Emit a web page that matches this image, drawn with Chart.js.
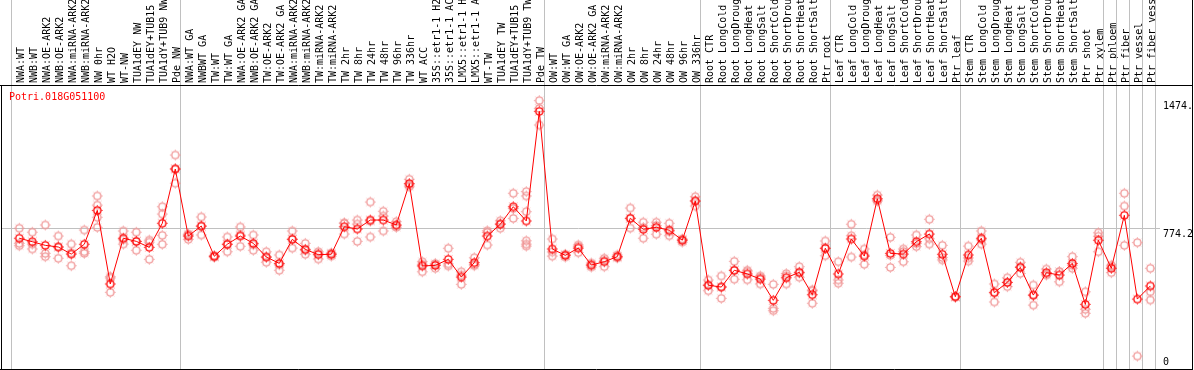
<!DOCTYPE html>
<html lang="en">
<head>
    <meta charset="UTF-8">
    <title>Potri.018G051100 expression</title>
    <script src="https://cdn.jsdelivr.net/npm/chart.js"></script>
    <style>
body {
  margin: 0;
  padding: 0;
  background-color: #fff;
}

#chartContainer {
  width: 1194px;
  height: 370px;
}
    </style>
</head>
<body>
    <div id="chartContainer">
        <canvas id="myChart" width="1194" height="370"></canvas>
    </div>

    <script>
        // sample names, in plot order
        const categories = [
            'NWA:WT', 'NWB:WT', 'NWA:OE-ARK2', 'NWB:OE-ARK2', 'NWA:miRNA-ARK2', 'NWB:miRNA-ARK2', 'NW 0hr', 'WT H2O', 'WT-NW',
            'TUA1dEY NW', 'TUA1dEY+TUB15 NW', 'TUA1dY+TUB9 NW', 'Pde NW',
            'NWA:WT GA', 'NWBWT GA', 'TW:WT', 'TW:WT GA', 'NWA:OE-ARK2 GA', 'NWB:OE-ARK2 GA', 'TW:OE-ARK2', 'TW:OE-ARK2 GA',
            'NWA:miRNA-ARK2 GA', 'NWB:miRNA-ARK2 GA', 'TW:miRNA-ARK2', 'TW:miRNA-ARK2 GA', 'TW 2hr', 'TW 8hr', 'TW 24hr', 'TW 48hr',
            'TW 96hr', 'TW 336hr', 'WT ACC', '35S::etr1-1 H2O', '35S::etr1-1 ACC', 'LMX5::etr1-1 H2O', 'LMX5::etr1-1 ACC', 'WT-TW',
            'TUA1dEY TW', 'TUA1dEY+TUB15 TW', 'TUA1dY+TUB9 TW', 'Pde TW',
            'OW:WT', 'OW:WT GA', 'OW:OE-ARK2', 'OW:OE-ARK2 GA', 'OW:miRNA-ARK2', 'OW:miRNA-ARK2 GA', 'OW 2hr', 'OW 8hr', 'OW 24hr',
            'OW 48hr', 'OW 96hr', 'OW 336hr',
            'Root CTR', 'Root LongCold', 'Root LongDrought', 'Root LongHeat', 'Root LongSalt', 'Root ShortCold', 'Root ShortDrought',
            'Root ShortHeat', 'Root ShortSalt', 'Ptr root',
            'Leaf CTR', 'Leaf LongCold', 'Leaf LongDrought', 'Leaf LongHeat', 'Leaf LongSalt', 'Leaf ShortCold', 'Leaf ShortDrought',
            'Leaf ShortHeat', 'Leaf ShortSalt', 'Ptr leaf',
            'Stem CTR', 'Stem LongCold', 'Stem LongDrought', 'Stem LongHeat', 'Stem LongSalt', 'Stem ShortCold', 'Stem ShortDrought',
            'Stem ShortHeat', 'Stem ShortSalt', 'Ptr shoot', 'Ptr xylem',
            'Ptr phloem', 'Ptr fiber', 'Ptr vessel', 'Ptr fiber vessel'
        ];

        // index where each experiment group starts (last one = end)
        const groupStarts = [0, 13, 41, 53, 63, 73, 84, 85, 86, 87, 88];

        // mean expression per sample
        const means = [
            718, 699, 679, 670, 631, 685, 871, 467, 718, 701, 668, 800, 1098,
            730, 785, 619, 685, 730, 690, 615, 580, 712, 657, 628, 630, 781, 769, 818, 818, 791, 1018, 566, 569, 602, 505, 584, 730, 795, 891, 813, 1415,
            659, 624, 664, 571, 589, 617, 828, 767, 778, 762, 707, 922,
            460, 450, 542, 522, 494, 377, 501, 531, 408, 663,
            522, 714, 620, 935, 635, 631, 699, 741, 630, 397,
            626, 718, 419, 476, 558, 406, 529, 516, 580, 355, 707,
            553, 844, 384, 456
        ];

        // individual replicates per sample
        const replicates = [
            [773, 690, 677], [751, 686, 659], [791, 635, 617], [730, 608, 670], [686, 567, 637], [763, 644, 635],
            [950, 900, 833, 778], [507, 421, 500], [758, 686, 710], [751, 652, 700], [708, 697, 602], [891, 851, 734, 685],
            [1175, 1020, 1100],
            [712, 741, 737], [835, 736, 784], [622, 613, 620], [725, 644, 686], [780, 674, 736], [736, 652, 682],
            [644, 586, 615], [626, 542, 572], [758, 664, 714], [690, 630, 651], [644, 604, 636], [637, 620, 633],
            [803, 741, 799], [818, 796, 701], [917, 725, 812], [866, 840, 758], [809, 778, 786], [1042, 1001, 1011],
            [589, 534, 575], [580, 553, 574], [663, 566, 577], [534, 465, 516], [611, 567, 574], [759, 681, 750],
            [814, 773, 798], [965, 827, 881], [974, 950, 864, 704, 686, 675], [1474, 1340, 1431],
            [714, 620, 643], [630, 615, 627], [681, 639, 672], [582, 560, 571], [608, 562, 597], [626, 610, 615],
            [884, 774, 826], [806, 718, 777], [806, 740, 788], [800, 732, 754], [714, 697, 710], [946, 895, 925],
            [489, 430, 461], [511, 388, 451], [591, 493, 542], [534, 490, 542], [511, 467, 504], [465, 333, 320],
            [512, 467, 524], [562, 504, 527], [434, 361, 429], [703, 622, 664],
            [589, 489, 471], [795, 732, 615], [659, 575, 626], [955, 928, 922], [723, 558, 624], [659, 589, 645],
            [736, 672, 689], [822, 686, 715], [679, 599, 612], [397, 395, 399],
            [675, 593, 610], [758, 686, 710], [467, 368, 422], [501, 452, 475], [586, 525, 563], [461, 351, 406],
            [549, 516, 522], [534, 479, 535], [617, 553, 570], [424, 328, 306], [748, 644, 729],
            [529, 560, 570], [965, 895, 679], [694, 71], [553, 424, 379]
        ];

        // y axis marks and their printed text
        const yTickValues = [0, 774.2, 1474];
        const yTickLabels = ['0', '774.2', '1474.'];
        const yMax = 1554;

        const geneName = 'Potri.018G051100';
        const monoFont = '10px "DejaVu Sans Mono", monospace';

        // circle marker with little spikes round it
        function makeMarker(color) {
            const c = document.createElement('canvas');
            c.width = 13;
            c.height = 13;
            const g = c.getContext('2d');
            g.strokeStyle = color;
            g.lineWidth = 1.4;
            g.beginPath();
            g.arc(6.5, 6.5, 3.6, 0, Math.PI * 2);
            g.stroke();
            g.lineWidth = 0.8;
            for (let k = 0; k < 8; k++) {
                const a = k * Math.PI / 4;
                g.beginPath();
                g.moveTo(6.5 + Math.cos(a) * 4.3, 6.5 + Math.sin(a) * 4.3);
                g.lineTo(6.5 + Math.cos(a) * 5.4, 6.5 + Math.sin(a) * 5.4);
                g.stroke();
            }
            return c;
        }

        const meanPoints = means.map((v, i) => ({ x: i, y: v }));
        const repPoints = [];
        replicates.forEach((reps, i) => {
            reps.forEach(v => repPoints.push({ x: i, y: v }));
        });

        // group separator lines, drawn over the full height
        const separators = {
            id: 'separators',
            beforeDatasetsDraw(chart) {
                const ctx = chart.ctx;
                const xs = chart.scales.x;
                ctx.save();
                ctx.strokeStyle = '#c0c0c0';
                ctx.lineWidth = 1;
                groupStarts.forEach(k => {
                    const px = Math.round(xs.getPixelForValue(k - 0.66)) + 0.5;
                    ctx.beginPath();
                    ctx.moveTo(px, 0);
                    ctx.lineTo(px, chart.chartArea.bottom);
                    ctx.stroke();
                });
                ctx.restore();
            }
        };

        // frame, gene name and right-hand value labels
        const decorations = {
            id: 'decorations',
            afterDraw(chart) {
                const ctx = chart.ctx;
                const area = chart.chartArea;
                const ys = chart.scales.y;
                ctx.save();
                ctx.strokeStyle = '#000';
                ctx.lineWidth = 1;
                ctx.beginPath();
                ctx.moveTo(0, area.top - 0.5);
                ctx.lineTo(1193, area.top - 0.5);
                ctx.moveTo(1.5, area.top);
                ctx.lineTo(1.5, area.bottom + 1);
                ctx.moveTo(1192.5, 0);
                ctx.lineTo(1192.5, area.bottom + 1);
                ctx.moveTo(0, area.bottom + 0.5);
                ctx.lineTo(1193, area.bottom + 0.5);
                ctx.stroke();

                ctx.font = monoFont;
                ctx.fillStyle = '#ff0000';
                ctx.textBaseline = 'top';
                ctx.fillText(geneName, area.left + 7, area.top + 6);

                ctx.fillStyle = '#000';
                yTickValues.forEach((v, i) => {
                    const py = ys.getPixelForValue(v);
                    if (v === 0) {
                        ctx.textBaseline = 'alphabetic';
                        ctx.fillText(yTickLabels[i], area.right + 8, py - 4);
                    } else {
                        ctx.textBaseline = 'top';
                        ctx.fillText(yTickLabels[i], area.right + 8, py + 1);
                    }
                });
                ctx.restore();
            }
        };

        const ctx = document.getElementById('myChart').getContext('2d');
        const myChart = new Chart(ctx, {
            type: 'line',
            data: {
                datasets: [{
                    label: 'mean',
                    data: meanPoints,
                    borderColor: '#ff0000',
                    borderWidth: 1,
                    pointStyle: makeMarker('#ff0000'),
                    tension: 0,
                    xAxisID: 'x',
                    yAxisID: 'y'
                }, {
                    label: 'replicates',
                    data: repPoints,
                    showLine: false,
                    pointStyle: makeMarker('rgb(240, 150, 150)'),
                    xAxisID: 'x',
                    yAxisID: 'y'
                }]
            },
            options: {
                responsive: false,
                animation: false,
                devicePixelRatio: 1,
                layout: {
                    autoPadding: false,
                    padding: { left: 2, right: 0, top: 0, bottom: 1 }
                },
                plugins: {
                    legend: { display: false },
                    tooltip: { enabled: false }
                },
                scales: {
                    x: {
                        type: 'linear',
                        display: false,
                        min: -1.33,
                        max: 87.36
                    },
                    xTop: {
                        type: 'linear',
                        position: 'top',
                        min: -1.33,
                        max: 87.36,
                        grid: { display: false },
                        border: { display: false },
                        afterBuildTicks: (scale) => {
                            scale.ticks = categories.map((c, i) => ({ value: i }));
                        },
                        afterFit: (scale) => {
                            scale.height = 86;
                            scale.paddingLeft = 0;
                            scale.paddingRight = 0;
                        },
                        ticks: {
                            autoSkip: false,
                            minRotation: 90,
                            maxRotation: 90,
                            padding: -5,
                            labelOffset: 14,
                            color: '#000',
                            font: { family: '"DejaVu Sans Mono", monospace', size: 10 },
                            callback: (value) => categories[value]
                        }
                    },
                    y: {
                        type: 'linear',
                        position: 'right',
                        min: 0,
                        max: yMax,
                        afterBuildTicks: (scale) => {
                            scale.ticks = yTickValues.map(v => ({ value: v }));
                        },
                        afterFit: (scale) => {
                            scale.width = 39;
                            scale.paddingTop = 0;
                            scale.paddingBottom = 0;
                        },
                        border: { display: false },
                        grid: {
                            color: (c) => (c.tick && c.tick.value === 774.2) ? '#c0c0c0' : 'rgba(0,0,0,0)',
                            tickLength: 5
                        },
                        ticks: { display: false }
                    }
                }
            },
            plugins: [separators, decorations]
        });
    </script>
</body>
</html>
